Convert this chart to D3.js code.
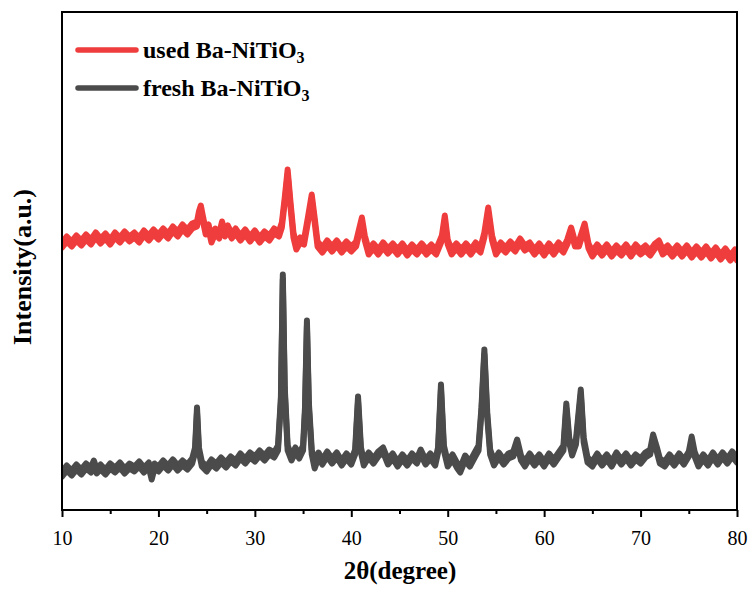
<!DOCTYPE html>
<html>
<head>
<meta charset="utf-8">
<script src="https://cdn.jsdelivr.net/npm/d3@7/dist/d3.min.js"></script>
<style>
  html, body { margin: 0; padding: 0; background: #fff; }
  svg { display: block; }
  text { font-family: "Liberation Serif", "Times New Roman", serif; fill: #000; }
</style>
</head>
<body>
<svg id="chart" width="751" height="590"></svg>
<script>
// XRD patterns: [2θ (degree), intensity (a.u.)]
const freshPattern = [
  [10.0,36],[10.5,42],[11.0,37],[11.5,43],[12.0,38],[12.5,44],[13.0,40],[13.3,47],[13.6,39],[14.0,43],
  [14.5,38],[15.0,44],[15.5,40],[16.0,45],[16.5,39],[17.0,44],[17.5,41],[18.0,46],[18.5,40],[19.0,45],
  [19.3,33],[19.6,44],[20.0,41],[20.5,47],[21.0,42],[21.5,48],[22.0,42],[22.5,47],[23.0,43],[23.5,49],
  [23.8,60],[24.0,100],[24.2,60],[24.5,46],[25.0,41],[25.5,48],[26.0,44],[26.5,50],[27.0,45],[27.5,51],
  [28.0,47],[28.5,54],[29.0,49],[29.5,55],[30.0,51],[30.5,57],[31.0,52],[31.5,58],[32.0,55],[32.4,62],
  [32.7,110],[32.9,233],[33.1,120],[33.4,62],[33.8,52],[34.2,60],[34.6,54],[35.0,62],[35.2,100],[35.4,187],
  [35.6,105],[35.9,58],[36.2,44],[36.6,55],[37.0,48],[37.5,56],[38.0,49],[38.5,55],[39.0,47],[39.5,54],
  [40.0,48],[40.4,58],[40.7,111],[41.0,60],[41.3,47],[41.8,55],[42.3,49],[42.8,56],[43.3,60],[43.8,48],
  [44.3,54],[44.8,46],[45.3,53],[45.8,47],[46.3,54],[46.8,49],[47.2,58],[47.7,48],[48.2,54],[48.7,47],
  [49.0,60],[49.3,123],[49.6,62],[50.0,46],[50.5,53],[51.0,44],[51.3,40],[51.8,52],[52.3,46],[52.8,55],
  [53.2,62],[53.5,100],[53.8,158],[54.1,95],[54.4,58],[54.8,47],[55.3,55],[55.8,48],[56.3,54],[56.8,56],
  [57.2,68],[57.6,52],[58.0,46],[58.5,54],[59.0,47],[59.5,53],[60.0,46],[60.5,54],[61.0,48],[61.5,55],
  [62.0,62],[62.3,104],[62.6,70],[62.9,57],[63.3,68],[63.8,118],[64.1,70],[64.5,50],[65.0,46],[65.5,54],
  [66.0,47],[66.5,53],[67.0,46],[67.5,55],[68.0,48],[68.5,54],[69.0,47],[69.5,53],[70.0,49],[70.5,55],
  [71.0,58],[71.3,73],[71.7,60],[72.0,49],[72.5,46],[73.0,53],[73.5,47],[74.0,54],[74.5,48],[75.0,56],
  [75.3,71],[75.6,56],[76.0,46],[76.5,53],[77.0,47],[77.5,55],[78.0,48],[78.5,55],[79.0,49],[79.5,56],
  [80.0,50]
];

const usedPattern = [
  [10.0,265],[10.5,271],[11.0,266],[11.5,272],[12.0,267],[12.5,273],[13.0,268],[13.5,275],[14.0,269],[14.5,274],
  [15.0,268],[15.5,275],[16.0,270],[16.5,276],[17.0,271],[17.5,275],[18.0,270],[18.5,277],[19.0,272],[19.5,278],
  [20.0,273],[20.5,279],[21.0,274],[21.5,281],[22.0,276],[22.5,283],[23.0,278],[23.5,284],[24.0,286],[24.2,296],
  [24.4,302],[24.6,292],[24.9,278],[25.2,283],[25.5,270],[25.9,279],[26.3,274],[26.6,286],[26.9,276],[27.2,282],
  [27.6,274],[28.0,279],[28.5,272],[29.0,278],[29.5,271],[30.0,277],[30.5,270],[31.0,276],[31.5,272],[32.0,279],
  [32.5,276],[32.8,285],[33.1,310],[33.4,338],[33.7,305],[34.0,275],[34.3,263],[34.7,270],[35.1,268],[35.5,290],
  [35.9,313],[36.2,290],[36.5,266],[37.0,260],[37.5,267],[38.0,261],[38.5,267],[39.0,260],[39.5,266],[40.0,261],
  [40.5,266],[40.8,278],[41.1,290],[41.4,272],[41.8,258],[42.3,264],[42.8,258],[43.3,265],[43.8,259],[44.3,264],
  [44.8,258],[45.3,264],[45.8,257],[46.3,263],[46.8,258],[47.3,264],[47.8,258],[48.3,263],[48.8,258],[49.4,272],
  [49.7,292],[50.0,268],[50.4,258],[50.9,264],[51.4,258],[51.9,264],[52.4,258],[52.9,265],[53.4,260],[53.8,275],
  [54.2,300],[54.6,272],[55.0,258],[55.5,265],[56.0,260],[56.5,266],[57.0,261],[57.5,269],[58.0,262],[58.5,265],
  [59.0,258],[59.5,264],[60.0,257],[60.5,264],[61.0,258],[61.5,265],[62.0,260],[62.4,268],[62.8,280],[63.2,266],
  [63.6,266],[64.2,284],[64.6,264],[65.0,256],[65.5,263],[66.0,257],[66.5,263],[67.0,256],[67.5,262],[68.0,257],
  [68.5,263],[69.0,256],[69.5,263],[70.0,258],[70.5,262],[71.0,257],[71.5,264],[71.9,267],[72.3,258],[72.8,262],
  [73.3,256],[73.8,262],[74.3,256],[74.8,262],[75.3,255],[75.8,261],[76.3,255],[76.8,261],[77.3,254],[77.8,260],
  [78.3,253],[78.8,259],[79.3,252],[79.8,258],[80.0,252]
];

const majorTicks = [10, 20, 30, 40, 50, 60, 70, 80];
const minorTicks = [15, 25, 35, 45, 55, 65, 75];
const seriesNames = ["used Ba-NiTiO", "fresh Ba-NiTiO"];
const seriesColors = ["#ef3d3d", "#4b4b4b"];

const svg = d3.select("#chart");
const plot = { left: 62, right: 737, top: 12, bottom: 510 };

const x = d3.scaleLinear().domain([10, 80]).range([plot.left, plot.right]);
const y = d3.scaleLinear().domain([0, 498]).range([plot.bottom, plot.top]);

const line = d3.line().x(d => x(d[0])).y(d => y(d[1]));

svg.append("clipPath").attr("id", "plotClip")
  .append("rect")
  .attr("x", plot.left).attr("y", plot.top)
  .attr("width", plot.right - plot.left).attr("height", plot.bottom - plot.top);

// each trace is stroked as a broad band (two slightly shifted passes)
const traces = svg.append("g").attr("clip-path", "url(#plotClip)");
[[freshPattern, seriesColors[1]], [usedPattern, seriesColors[0]]].forEach(([data, color]) => {
  [-2.5, 2.5].forEach(dy => {
    traces.append("path")
      .datum(data)
      .attr("transform", `translate(0,${dy})`)
      .attr("d", line)
      .attr("fill", "none")
      .attr("stroke", color)
      .attr("stroke-width", 6)
      .attr("stroke-linejoin", "round")
      .attr("stroke-linecap", "round");
  });
});

// frame
svg.append("rect")
  .attr("x", plot.left).attr("y", plot.top)
  .attr("width", plot.right - plot.left).attr("height", plot.bottom - plot.top)
  .attr("fill", "none").attr("stroke", "#000").attr("stroke-width", 2);

// bottom axis: major ticks with labels, minor ticks without
const xAxis = svg.append("g")
  .attr("transform", `translate(0,${plot.bottom})`)
  .call(d3.axisBottom(x).tickValues(majorTicks).tickSize(7).tickPadding(14).tickFormat(d3.format("d")));
xAxis.select(".domain").remove();
xAxis.selectAll(".tick line").attr("stroke", "#000").attr("stroke-width", 2);
xAxis.selectAll(".tick text")
  .attr("font-family", "Liberation Serif, serif")
  .attr("font-size", 20)
  .attr("fill", "#222");

const xMinor = svg.append("g")
  .attr("transform", `translate(0,${plot.bottom})`)
  .call(d3.axisBottom(x).tickValues(minorTicks).tickSize(4).tickFormat(""));
xMinor.select(".domain").remove();
xMinor.selectAll(".tick line").attr("stroke", "#000").attr("stroke-width", 2);

// axis titles
svg.append("text")
  .attr("x", 400)
  .attr("y", 579)
  .attr("text-anchor", "middle")
  .attr("font-size", 25)
  .attr("font-weight", "bold")
  .text("2θ(degree)");

svg.append("text")
  .attr("transform", "translate(31,267) rotate(-90)")
  .attr("text-anchor", "middle")
  .attr("font-size", 26)
  .attr("font-weight", "bold")
  .text("Intensity(a.u.)");

// legend
const legend = svg.append("g");
seriesNames.forEach((name, i) => {
  const ly = 50 + i * 38;
  legend.append("line")
    .attr("x1", 78).attr("x2", 136)
    .attr("y1", ly).attr("y2", ly)
    .attr("stroke", seriesColors[i])
    .attr("stroke-width", 5.5)
    .attr("stroke-linecap", "round");
  const t = legend.append("text")
    .attr("x", 143).attr("y", ly + 8)
    .attr("font-size", 24)
    .attr("font-weight", "bold");
  t.append("tspan").text(name);
  t.append("tspan").attr("dy", 5).attr("font-size", 16).text("3");
});
</script>
</body>
</html>
